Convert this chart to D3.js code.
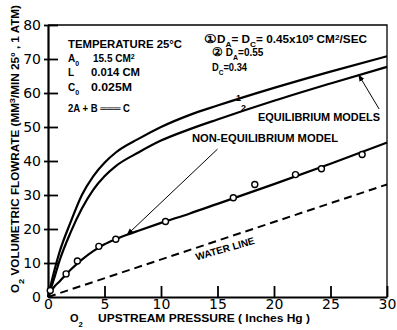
<!DOCTYPE html>
<html>
<head>
<meta charset="utf-8">
<script src="https://cdn.jsdelivr.net/npm/d3@7"></script>
<style>
  html, body { margin: 0; padding: 0; background: #fff; }
  svg text { font-family: "Liberation Sans", Arial, sans-serif; font-weight: bold; fill: #000; }
</style>
</head>
<body>
<svg id="chart"></svg>
<script>
// upstream pressure (in Hg) vs flowrate
const eqModel1 = [[0,0],[0.5,7],[1,13],[2,22],[3,30],[4,35.5],[5,39.5],[6,42.5],[8,46.5],[10,50],[12.5,53.5],[15,56.3],[20,61.5],[25,66.3],[30,70.8]];
const eqModel2 = [[0,0],[0.5,5],[1,10.5],[2,19],[3,26],[4,31.5],[5,35.5],[6,38.5],[8,42.5],[10,46],[12.5,49.3],[15,52.2],[20,57.7],[25,62.8],[30,67.7]];
const nonEqModel = [[0,0],[0.5,2.8],[1,4.5],[2,8],[3,11],[4,13.5],[5,15.5],[6,17],[7,18.3],[8,19.5],[10,21.8],[12.5,24.5],[15,27.4],[20,33.2],[25,39.2],[30,45.4]];
const waterLine = [[0,0],[30,33.1]];
const measured = [[0.2,1.9],[1.6,6.8],[2.6,10.6],[4.5,14.9],[6.0,17.0],[10.4,22.2],[16.4,29.2],[18.3,33.1],[21.9,36.0],[24.2,37.7],[27.8,41.9]];
const xTicks = [0, 5, 10, 15, 20, 25, 30];
const yTicks = [0, 10, 20, 30, 40, 50, 60, 70, 80];

const W = 397, H = 330;
const svg = d3.select("#chart").attr("width", W).attr("height", H);

const x = d3.scaleLinear().domain([0, 30]).range([48, 387]);
const y = d3.scaleLinear().domain([0, 80]).range([297, 25]);

// frame (top + right)
svg.append("path")
  .attr("d", `M${x(0)},${y(80)}H${x(30)}V${y(0)}`)
  .attr("fill", "none").attr("stroke", "#000").attr("stroke-width", 1.3);

// axes
const yAxis = svg.append("g")
  .attr("transform", `translate(${x(0)},0)`)
  .call(d3.axisLeft(y).tickValues(yTicks).tickSize(-10).tickSizeOuter(0).tickPadding(7));
const xAxis = svg.append("g")
  .attr("transform", `translate(0,${y(0)})`)
  .call(d3.axisBottom(x).tickValues(xTicks).tickSize(-11).tickSizeOuter(0).tickPadding(2));
[yAxis, xAxis].forEach(g => {
  g.select(".domain").attr("stroke-width", 2.2);
  g.selectAll(".tick line").attr("stroke-width", 1.8);
  g.selectAll(".tick text").style("font-size", "14px").style("font-weight", "normal")
    .style("font-family", "'DejaVu Sans', sans-serif");
});
yAxis.selectAll(".tick line").attr("x1", -4);
xAxis.selectAll(".tick").filter(d => d === 0).select("line").remove();
yAxis.selectAll(".tick").filter(d => d === 0).select("line").remove();

const line = d3.line().x(d => x(d[0])).y(d => y(d[1])).curve(d3.curveMonotoneX);

[eqModel1, eqModel2, nonEqModel].forEach(s => {
  svg.append("path").datum(s).attr("d", line)
    .attr("fill", "none").attr("stroke", "#000").attr("stroke-width", 2.2);
});
svg.append("path").datum(waterLine).attr("d", d3.line().x(d => x(d[0])).y(d => y(d[1])))
  .attr("fill", "none").attr("stroke", "#000").attr("stroke-width", 2)
  .attr("stroke-dasharray", "8,5");

svg.append("g").selectAll("circle").data(measured).join("circle")
  .attr("cx", d => x(d[0])).attr("cy", d => y(d[1])).attr("r", 3)
  .attr("fill", "#fff").attr("stroke", "#000").attr("stroke-width", 1.4);

// pointers
svg.append("defs").append("marker")
  .attr("id", "ah").attr("viewBox", "0 0 10 10").attr("refX", 9).attr("refY", 5)
  .attr("markerWidth", 7).attr("markerHeight", 7).attr("orient", "auto")
  .append("path").attr("d", "M0,1L10,5L0,9Z").attr("fill", "#000");
const pointers = [[[15.0, 43.5], [7.0, 18.3]], [[29.3, 55.3], [27.5, 65.3]]];
pointers.forEach(p => {
  svg.append("line")
    .attr("x1", x(p[0][0])).attr("y1", y(p[0][1]))
    .attr("x2", x(p[1][0])).attr("y2", y(p[1][1]))
    .attr("stroke", "#000").attr("stroke-width", 1).attr("marker-end", "url(#ah)");
});

// text helpers
function label(px, py, parts, size, len) {
  const t = svg.append("text").attr("x", px).attr("y", py).style("font-size", size + "px");
  parts.forEach(p => {
    const s = typeof p === "string" ? { t: p } : p;
    const ts = t.append("tspan").text(s.t);
    if (s.sub) ts.attr("baseline-shift", "sub").style("font-size", (size * 0.7) + "px");
    if (s.sup) ts.attr("baseline-shift", "super").style("font-size", (size * 0.7) + "px");
    if (s.big) ts.style("font-size", s.big + "px");
  });
  if (len) t.attr("textLength", len).attr("lengthAdjust", "spacingAndGlyphs");
  return t;
}

label(68, 48, ["TEMPERATURE  25°C"], 10, 114);
label(68, 62, ["A", { t: "0", sub: true }], 10);
label(93, 62, ["15.5 CM", { t: "2", sup: true }], 10);
label(68, 76, ["L"], 10);
label(91, 76, ["0.014 CM"], 10, 49);
label(68, 91, ["C", { t: "0", sub: true }], 10);
label(91, 91, ["0.025M"], 10, 41);
label(68, 112, ["2A + B ═══ C"], 10, 62);

label(204, 43, [{ t: "①", big: 12 }, "D", { t: "A", sub: true }, "= D", { t: "C", sub: true }, "= 0.45x10", { t: "5", sup: true }, " CM", { t: "2", sup: true }, "/SEC"], 10, 163);
label(212, 56, [{ t: "②", big: 12 }, " D", { t: "A", sub: true }, "=0.55"], 10);
label(212, 71, ["D", { t: "C", sub: true }, "=0.34"], 10, 35);

label(258, 121, ["EQUILIBRIUM MODELS"], 10, 122);
label(192, 142, ["NON-EQUILIBRIUM MODEL"], 10, 146);
label(236, 101, ["1"], 9);
label(241, 111, ["2"], 9);

svg.append("text").attr("transform", "translate(226,252) rotate(-16)")
  .attr("text-anchor", "middle").style("font-size", "10px").text("WATER LINE");

// axis titles
label(70, 322, ["O", { t: "2", sub: true }], 11);
label(98, 322, ["UPSTREAM  PRESSURE  ( Inches  Hg )"], 10, 212);

const yt = svg.append("text").attr("transform", "translate(19,293) rotate(-90)")
  .style("font-size", "10px");
yt.append("tspan").text("O");
yt.append("tspan").attr("baseline-shift", "sub").style("font-size", "8px").text("2");
yt.append("tspan").text("  VOLUMETRIC   FLOWRATE  (MM");
yt.append("tspan").attr("baseline-shift", "super").style("font-size", "8px").text("3");
yt.append("tspan").text("/MIN  25° , 1 ATM)");
yt.attr("textLength", 288).attr("lengthAdjust", "spacingAndGlyphs");
</script>
</body>
</html>
